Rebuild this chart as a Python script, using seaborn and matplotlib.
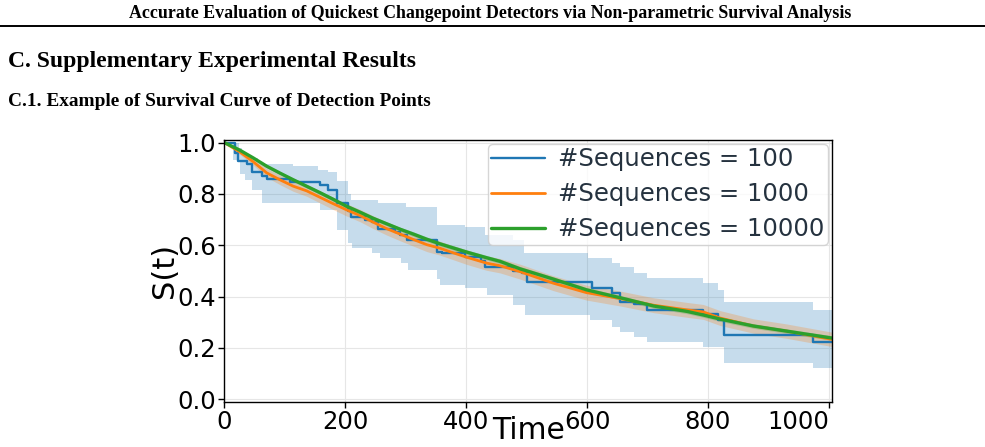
import numpy as np
import matplotlib
matplotlib.use('Agg')
import matplotlib.pyplot as plt
import seaborn as sns
from matplotlib.lines import Line2D

# ---- data ----
# 100 sequences: Kaplan-Meier steps (time where the new value starts)
seq100_t = [0, 18, 22, 37, 46, 62, 71, 109, 158, 172, 186, 205, 210, 233, 245, 255,
            282, 290, 302, 351, 360, 398, 425, 431, 478, 492, 500, 608, 641, 655,
            677, 699, 792, 817, 826, 974]
seq100_s = [1.0, 0.96, 0.93, 0.916, 0.887, 0.868, 0.858, 0.847, 0.834, 0.817, 0.763,
            0.735, 0.711, 0.698, 0.69, 0.665, 0.652, 0.64, 0.62, 0.575, 0.568, 0.555,
            0.54, 0.516, 0.50, 0.49, 0.458, 0.432, 0.412, 0.38, 0.37, 0.347, 0.33,
            0.307, 0.25, 0.224]
seq100_hi_t = [0, 24, 30, 40, 55, 64, 114, 155, 172, 186, 205, 210, 255, 300, 351,
               398, 431, 478, 495, 602, 641, 655, 677, 699, 792, 817, 826, 974]
seq100_hi = [1.0, 0.98, 0.955, 0.94, 0.925, 0.918, 0.908, 0.895, 0.885, 0.85, 0.80,
             0.775, 0.763, 0.75, 0.678, 0.672, 0.64, 0.62, 0.568, 0.549, 0.529,
             0.516, 0.49, 0.471, 0.451, 0.425, 0.38, 0.347]
seq100_lo_t = [0, 15, 26, 34, 45, 62, 158, 186, 205, 211, 244, 257, 293, 304, 351,
               357, 398, 434, 478, 497, 605, 641, 655, 677, 699, 792, 826, 974]
seq100_lo = [1.0, 0.931, 0.879, 0.853, 0.815, 0.765, 0.737, 0.66, 0.607, 0.588,
             0.568, 0.55, 0.529, 0.503, 0.47, 0.445, 0.432, 0.406, 0.367, 0.328,
             0.309, 0.283, 0.263, 0.244, 0.224, 0.205, 0.14, 0.121]

# 1000 and 10000 sequences: dense curves sampled along time
dense_t = [0, 26, 48, 70, 92, 114, 136, 158, 180, 202, 225, 246, 269, 291, 313, 335,
           357, 379, 401, 434, 456, 489, 544, 599, 655, 710, 765, 792, 820, 875,
           930, 1005]
seq1000_s = [1.0, 0.963, 0.925, 0.882, 0.855, 0.83, 0.812, 0.787, 0.762, 0.738,
             0.715, 0.69, 0.664, 0.643, 0.622, 0.602, 0.588, 0.57, 0.553, 0.53,
             0.52, 0.497, 0.452, 0.415, 0.392, 0.366, 0.348, 0.34, 0.316, 0.285,
             0.265, 0.233]
seq1000_ci = [0.0, 0.01, 0.014, 0.017, 0.019, 0.02, 0.021, 0.022, 0.023, 0.024,
              0.024, 0.025, 0.025, 0.026, 0.026, 0.027, 0.027, 0.027, 0.028, 0.028,
              0.028, 0.029, 0.029, 0.029, 0.029, 0.029, 0.029, 0.029, 0.029, 0.028,
              0.028, 0.028]
seq10000_s = [1.0, 0.97, 0.94, 0.908, 0.881, 0.855, 0.83, 0.805, 0.779, 0.752,
              0.728, 0.705, 0.683, 0.662, 0.643, 0.623, 0.605, 0.589, 0.573, 0.551,
              0.537, 0.508, 0.468, 0.426, 0.395, 0.363, 0.342, 0.328, 0.312, 0.285,
              0.265, 0.238]
seq10000_ci = [0.0, 0.004, 0.005, 0.006, 0.006, 0.007, 0.007, 0.007, 0.008, 0.008,
               0.008, 0.008, 0.008, 0.008, 0.009, 0.009, 0.009, 0.009, 0.009, 0.009,
               0.009, 0.009, 0.009, 0.009, 0.009, 0.009, 0.009, 0.009, 0.009, 0.009,
               0.009, 0.009]

labels = ['#Sequences = 100', '#Sequences = 1000', '#Sequences = 10000']
colors = ['#1f77b4', '#ff7f0e', '#2ca02c']
t_max = 1005


def step_values(times, values, grid):
    idx = np.searchsorted(times, grid, side='right') - 1
    return np.asarray(values)[idx]


sns.set_style('whitegrid', {
    'axes.edgecolor': 'black',
    'axes.labelcolor': 'black',
    'text.color': 'black',
    'grid.color': '#e6e6e6',
    'xtick.bottom': True,
    'ytick.left': True,
    'xtick.color': 'black',
    'ytick.color': 'black',
})
plt.rcParams['font.family'] = ['DejaVu Sans']

fig = plt.figure(figsize=(9.85, 4.47), dpi=100)

# paper text around the figure
serif = ['Liberation Serif', 'DejaVu Serif']
fig.text(490 / 985, 1 - 18 / 447,
         'Accurate Evaluation of Quickest Changepoint Detectors via Non-parametric Survival Analysis',
         ha='center', va='baseline', fontsize=12.9, fontweight='bold', family=serif,
         color='black')
fig.add_artist(Line2D([0, 1], [1 - 26 / 447] * 2, color='black', lw=1.4))
fig.text(8 / 985, 1 - 67 / 447, 'C. Supplementary Experimental Results',
         ha='left', va='baseline', fontsize=17, fontweight='bold', family=serif,
         color='black')
fig.text(8 / 985, 1 - 106 / 447, 'C.1. Example of Survival Curve of Detection Points',
         ha='left', va='baseline', fontsize=13.9, fontweight='bold', family=serif,
         color='black')

ax = fig.add_axes([224.3 / 985, 1 - 401.7 / 447, (832 - 224.3) / 985, (401.7 - 140) / 447])

# 100 sequences: step curve with band
grid = np.array(sorted(set(seq100_t) | set(seq100_hi_t) | set(seq100_lo_t) | {t_max}))
lo = step_values(seq100_lo_t, seq100_lo, grid)
hi = step_values(seq100_hi_t, seq100_hi, grid)
ax.fill_between(grid, lo, hi, step='post', color=colors[0], alpha=0.25, lw=0)
sns.lineplot(x=seq100_t + [t_max], y=seq100_s + [seq100_s[-1]], ax=ax,
             drawstyle='steps-post', color=colors[0], lw=1.7, label=labels[0])

# 1000 / 10000 sequences
for s, ci, c, lab, lw in [(seq1000_s, seq1000_ci, colors[1], labels[1], 2.0),
                          (seq10000_s, seq10000_ci, colors[2], labels[2], 2.4)]:
    s = np.array(s)
    ci = np.array(ci)
    ax.fill_between(dense_t, s - ci, s + ci, color=c, alpha=0.25, lw=0)
    sns.lineplot(x=dense_t, y=s, ax=ax, color=c, lw=lw, label=lab)

ax.set_xlim(0, t_max)
ax.set_ylim(-0.01, 1.01)
ax.set_xticks([0, 200, 400, 600, 800, 1000])
ax.set_yticks([0.0, 0.2, 0.4, 0.6, 0.8, 1.0])
ax.tick_params(labelsize=17.5, length=4, width=1, pad=2)
ax.get_xticklabels()[-1].set_ha('right')
ax.set_xlabel('Time', fontsize=21.5, labelpad=-13)
ax.set_ylabel('S(t)', fontsize=22, labelpad=-1)
for sp in ax.spines.values():
    sp.set_color('black')
    sp.set_linewidth(1.0)

leg = ax.legend(loc='upper right', fontsize=17.5, borderaxespad=0.15,
                borderpad=0.15, labelspacing=0.45,
                handlelength=2.2, handletextpad=0.55, framealpha=0.8,
                fancybox=True, edgecolor='#cccccc')
for txt in leg.get_texts():
    txt.set_color('#25323f')

fig.savefig('out.png', dpi=100)
